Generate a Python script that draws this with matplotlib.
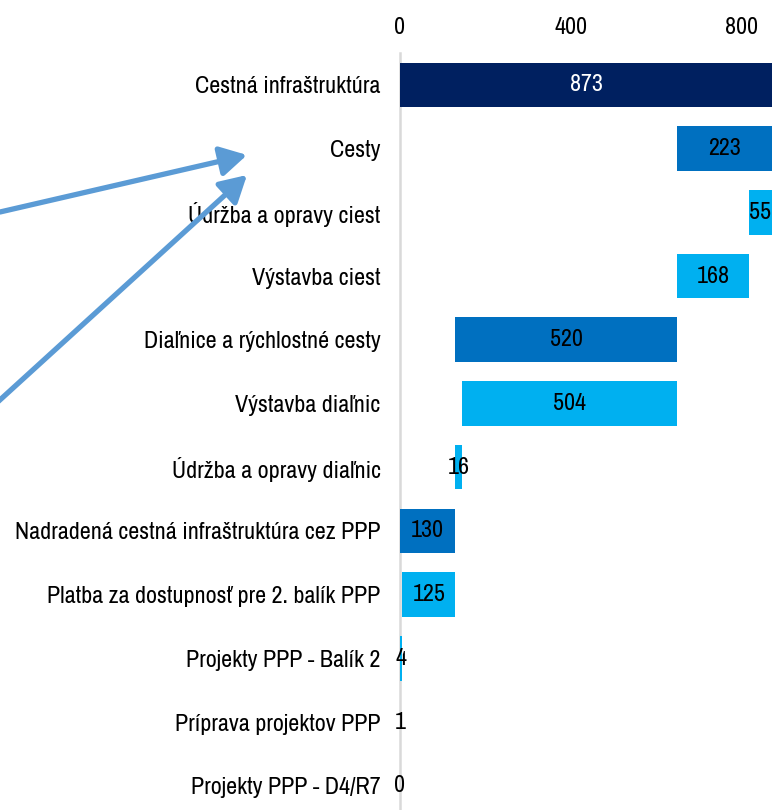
import matplotlib
matplotlib.use("Agg")
import matplotlib.pyplot as plt

# data (waterfall: bar value and its invisible base)
categories = [
    "Cestná infraštruktúra",
    "Cesty",
    "Údržba a opravy ciest",
    "Výstavba ciest",
    "Diaľnice a rýchlostné cesty",
    "Výstavba diaľnic",
    "Údržba a opravy diaľnic",
    "Nadradená cestná infraštruktúra cez PPP",
    "Platba za dostupnosť pre 2. balík PPP",
    "Projekty PPP - Balík 2",
    "Príprava projektov PPP",
    "Projekty PPP - D4/R7",
]
values = [873, 223, 55, 168, 520, 504, 16, 130, 125, 4, 1, 0]
bases = [0, 650, 818, 650, 130, 146, 130, 0, 5, 1, 0, 0]
levels = [0, 1, 2, 2, 1, 2, 2, 1, 2, 2, 2, 2]
x_ticks = [0, 400, 800]

NAVY = "#002060"
MID = "#0070c0"
LIGHT = "#00b0f0"
level_colors = {0: NAVY, 1: MID, 2: LIGHT}

plt.rcParams["font.family"] = ["Archivo Narrow", "Liberation Sans", "DejaVu Sans"]
FS = 17.3

W, H = 776, 810
fig = plt.figure(figsize=(W / 100, H / 100), dpi=100)
# axes from x=400px to right edge, top at 53px, bottom clipped at figure edge
ax = fig.add_axes([400 / W, 0, (W - 400) / W, (H - 53) / H])

ypos = list(range(len(categories)))
colors = [level_colors[l] for l in levels]
ax.barh(ypos, values, left=bases, height=0.70, color=colors, zorder=3)

for y, v, b, l in zip(ypos, values, bases, levels):
    ax.text(b + v / 2, y, str(v), ha="center", va="center", fontsize=FS,
            color="white" if l == 0 else "black", zorder=4)

ax.set_xlim(0, 882)
ax.set_ylim(11.38, -0.5)

ax.xaxis.tick_top()
ax.set_xticks(x_ticks)
ax.set_xticklabels([str(t) for t in x_ticks], fontsize=FS)
ax.set_yticks(ypos)
ax.set_yticklabels(categories, fontsize=FS)
ax.tick_params(axis="x", length=0, pad=11)
ax.tick_params(axis="y", length=0, pad=14)

for side in ["top", "right", "bottom"]:
    ax.spines[side].set_visible(False)
ax.spines["left"].set_color("#d9d9d9")
ax.spines["left"].set_linewidth(1.8)

# two blue arrows pointing at the "Cesty" label
arrow_kw = dict(arrowstyle="-|>,head_length=0.8,head_width=0.45", color="#5b9bd5",
                lw=3.8, mutation_scale=20, shrinkA=0, shrinkB=0)
fig_h = H
ax.annotate("", xy=(247, fig_h - 155), xycoords="figure pixels",
            xytext=(0, fig_h - 212), textcoords="figure pixels",
            arrowprops=arrow_kw, annotation_clip=False)
ax.annotate("", xy=(247, fig_h - 175), xycoords="figure pixels",
            xytext=(-10, fig_h - 409), textcoords="figure pixels",
            arrowprops=arrow_kw, annotation_clip=False)

fig.savefig("out.png", dpi=100)
